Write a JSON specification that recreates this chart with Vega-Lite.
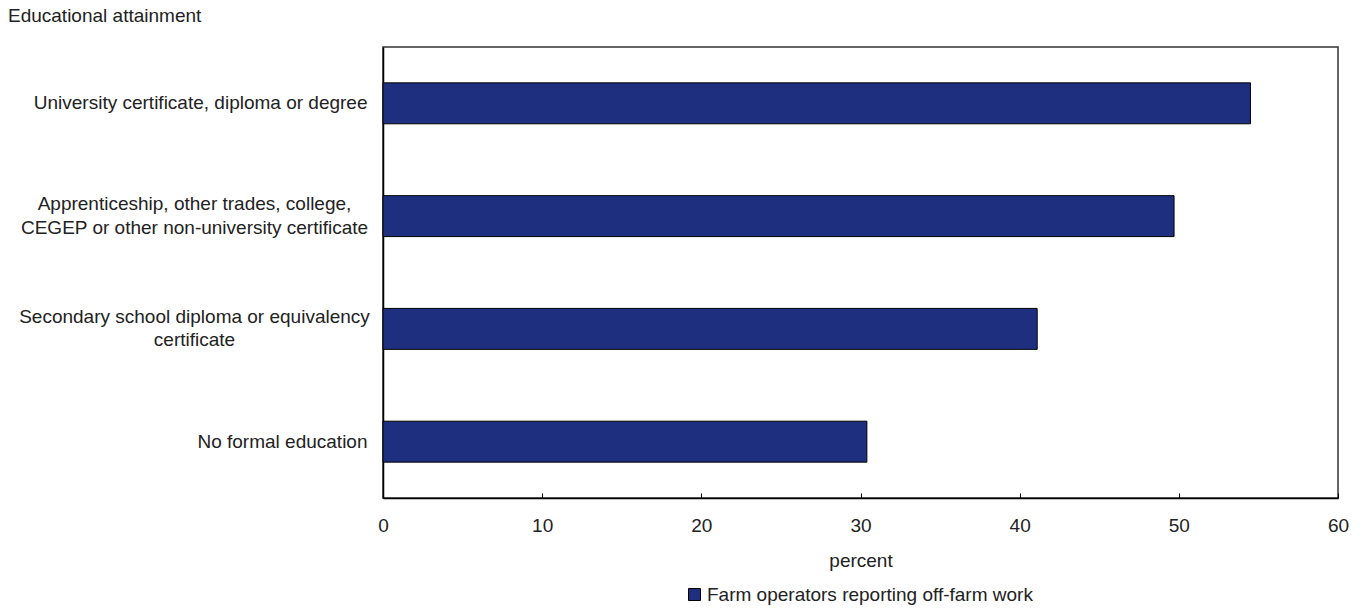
{
  "$schema": "https://vega.github.io/schema/vega-lite/v6.json",
  "width": 955,
  "height": 451,
  "autosize": {"type": "none"},
  "padding": {"left": 383, "top": 47, "right": 23, "bottom": 111},
  "background": "white",
  "config": {
    "font": "Liberation Sans",
    "view": {"stroke": "#333", "strokeWidth": 1.5}
  },
  "title": {
    "text": "Educational attainment",
    "anchor": "start",
    "frame": "group",
    "dx": -375,
    "offset": 21,
    "fontSize": 19,
    "fontWeight": "normal",
    "color": "#222"
  },
  "data": {
    "values": [
      {"attainment": "University certificate, diploma or degree", "percent": 54.5, "series": "Farm operators reporting off-farm work"},
      {"attainment": "Apprenticeship, other trades, college, CEGEP or other non-university certificate", "percent": 49.7, "series": "Farm operators reporting off-farm work"},
      {"attainment": "Secondary school diploma or equivalency certificate", "percent": 41.1, "series": "Farm operators reporting off-farm work"},
      {"attainment": "No formal education", "percent": 30.4, "series": "Farm operators reporting off-farm work"}
    ]
  },
  "mark": {"type": "bar", "stroke": "#000", "strokeWidth": 1},
  "encoding": {
    "y": {
      "field": "attainment",
      "type": "nominal",
      "sort": null,
      "scale": {"paddingInner": 0.637, "paddingOuter": 0.318},
      "axis": {
        "title": null,
        "ticks": false,
        "domainColor": "#000",
        "domainWidth": 1.5,
        "labelFontSize": 19,
        "labelColor": "#222",
        "labelLimit": 500,
        "labelLineHeight": 23.5,
        "labelExpr": "split(replace(replace(datum.label, 'college, CEGEP', 'college,\\nCEGEP'), 'equivalency certificate', 'equivalency\\ncertificate'), '\\n')",
        "labelAlign": {"condition": {"test": "length(datum.value) > 45", "value": "center"}, "value": "right"},
        "labelPadding": {"condition": {"test": "length(datum.value) > 45", "value": 189}, "value": 16},
        "labelOffset": {"condition": {"test": "length(datum.value) > 45", "value": -12}, "value": 0}
      }
    },
    "x": {
      "field": "percent",
      "type": "quantitative",
      "scale": {"domain": [0, 60], "nice": false},
      "axis": {
        "title": "percent",
        "values": [0, 10, 20, 30, 40, 50, 60],
        "grid": false,
        "tickSize": -5,
        "tickColor": "#000",
        "domainColor": "#000",
        "domainWidth": 1.5,
        "labelFlush": false,
        "labelBound": false,
        "labelPadding": 23,
        "labelFontSize": 19,
        "labelColor": "#222",
        "titleFontSize": 19,
        "titleFontWeight": "normal",
        "titleColor": "#222",
        "titlePadding": 16
      }
    },
    "color": {
      "field": "series",
      "type": "nominal",
      "scale": {"range": ["#1e2f80"]},
      "legend": {
        "title": null,
        "orient": "none",
        "legendX": 302,
        "legendY": 538,
        "direction": "horizontal",
        "symbolType": "square",
        "symbolSize": 144,
        "symbolStrokeColor": "#000",
        "symbolStrokeWidth": 1,
        "symbolOpacity": 1,
        "labelFontSize": 19,
        "labelColor": "#222",
        "labelLimit": 500,
        "labelOffset": 3
      }
    }
  }
}
